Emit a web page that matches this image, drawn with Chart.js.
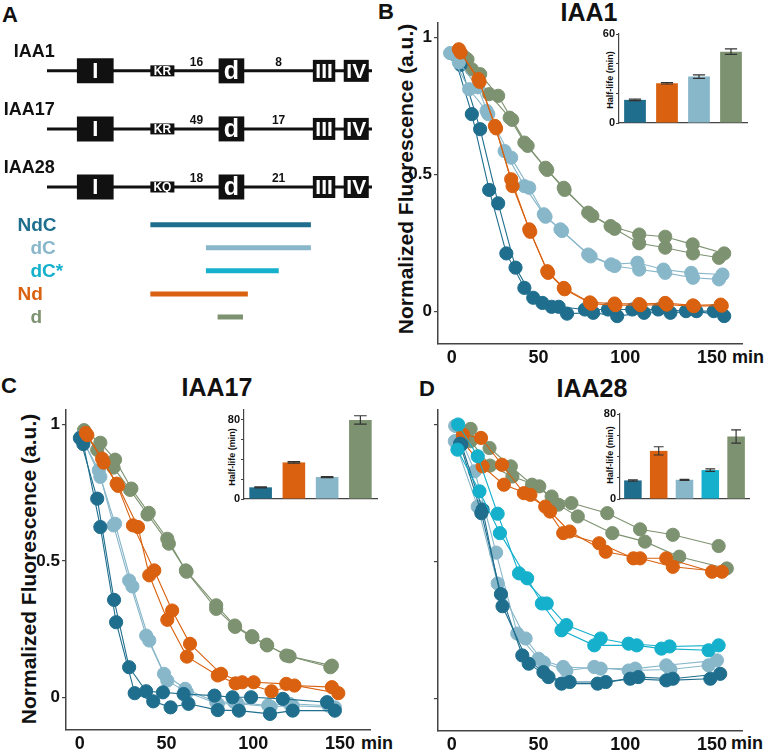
<!DOCTYPE html>
<html lang="en">
<head>
<meta charset="UTF-8" />
<title>Aux/IAA degron half-lives</title>
<script src="https://cdn.jsdelivr.net/npm/chart.js"></script>
<style>
  body { margin: 0; background: #fff; font-family: "Liberation Sans", Arial, sans-serif; }
  #fig { position: relative; width: 768px; height: 752px; overflow: hidden; background: #fff; }
  canvas { position: absolute; }
  .t { position: absolute; font-weight: bold; color: #111; white-space: nowrap; line-height: 1;
       transform: translate(-50%, -50%); }
  .rot { transform: translate(-50%, -50%) rotate(-90deg); }
</style>
</head>
<body>
<div id="fig">
  <div class="t" style="left:10px;top:15px;font-size:22px">A</div>
  <div class="t" style="left:386px;top:12px;font-size:22px">B</div>
  <div class="t" style="left:9px;top:386px;font-size:22px">C</div>
  <div class="t" style="left:427px;top:389px;font-size:22px">D</div>

  <div class="t" style="left:589px;top:12px;font-size:25px">IAA1</div>
  <div class="t" style="left:217px;top:387px;font-size:25px">IAA17</div>
  <div class="t" style="left:592px;top:388px;font-size:25px">IAA28</div>

  <div class="t rot" style="left:405px;top:179px;font-size:21px">Normalized Fluorescence (a.u.)</div>
  <div class="t rot" style="left:28px;top:569px;font-size:21px">Normalized Fluorescence (a.u.)</div>

  <div class="t" style="left:748px;top:357px;font-size:18px">min</div>
  <div class="t" style="left:377px;top:743px;font-size:18px">min</div>
  <div class="t" style="left:747px;top:743px;font-size:18px">min</div>

  <div class="t rot" style="left:610px;top:80px;font-size:9px">Half-life (min)</div>
  <div class="t rot" style="left:232px;top:457px;font-size:9px">Half-life (min)</div>
  <div class="t rot" style="left:610px;top:455px;font-size:9px">Half-life (min)</div>

  <canvas id="schemeA" width="384" height="302" style="left:0;top:36px"></canvas>
  <canvas id="curveB" width="370" height="355" style="left:380px;top:15px"></canvas>
  <canvas id="curveC" width="370" height="350" style="left:8px;top:402px"></canvas>
  <canvas id="curveD" width="370" height="350" style="left:380px;top:402px"></canvas>
  <canvas id="barB" width="165" height="100" style="left:585px;top:28px"></canvas>
  <canvas id="barC" width="170" height="100" style="left:210px;top:404px"></canvas>
  <canvas id="barD" width="166" height="96" style="left:586px;top:408px"></canvas>
</div>

<script>
// ---- panel A: domain map (positions in % of protein length) ----
const proteins = ["IAA1", "IAA17", "IAA28"];
const motifs = ["KR", "KR", "KQ"];
const spacerN = [16, 49, 18];
const spacerC = [8, 17, 21];
const domainStart = [9.2, 31.8, 52.8, 81.8, 91.3];
const domainEnd = [20.5, 39.2, 60.7, 88.7, 99.0];
const constructs = ["NdC", "dC", "dC*", "Nd", "d"];
const constructStart = [31.8, 48.9, 48.9, 31.8, 52.5];
const constructEnd = [81.2, 81.2, 71.3, 61.8, 60.3];

// ---- panels B-D: [time (min), normalized fluorescence], two replicates each ----
const B_NdC_1 = [[1,0.94],[11.5,0.72],[21.5,0.443],[31.4,0.211],[41.8,0.085],[52.2,0.03],[61.6,0.016],[76.7,0.006],[90,0.006],[104,0.006],[119,0.006],[135,0],[151,0]];
const B_NdC_2 = [[5,0.90],[16.3,0.665],[26.7,0.394],[36.7,0.159],[46.9,0.049],[57.5,0.016],[66.4,-0.009],[81.5,-0.006],[95.3,-0.018],[110.8,-0.006],[126,-0.006],[141,0],[157,-0.018]];
const B_Nd_1 = [[4,0.957],[15.3,0.848],[24.8,0.677],[34.2,0.482],[44.6,0.299],[55,0.146],[64.5,0.085],[79.6,0.032],[93.8,0.028],[108,0.026],[123,0.03],[139,0.021],[155,0.024]];
const B_Nd_2 = [[5,0.945],[16,0.838],[25.5,0.668],[35,0.457],[45.2,0.29],[55.5,0.14],[65,0.08],[80.3,0.027],[94.3,0.022],[108.7,0.022],[123.9,0.024],[139.5,0.018],[155.6,0.02]];
const B_dC_1 = [[-1,0.943],[10,0.811],[20,0.732],[30.4,0.585],[41.8,0.457],[53,0.354],[62.6,0.299],[78.6,0.207],[91.8,0.171],[107,0.177],[122,0.152],[138,0.14],[156,0.134]];
const B_dC_2 = [[4,0.909],[15,0.818],[21,0.72],[34.2,0.561],[44.6,0.451],[54,0.345],[63.5,0.293],[80,0.2],[93.8,0.165],[108,0.152],[123,0.14],[139,0.122],[154,0.116]];
const B_d_1 = [[7,0.93],[11.5,0.884],[21.5,0.793],[33.3,0.707],[41.8,0.616],[54,0.524],[64.5,0.451],[78.6,0.36],[91.5,0.311],[108,0.28],[123,0.272],[138.8,0.244],[157,0.211]];
const B_d_2 = [[9,0.92],[16.3,0.866],[26.7,0.787],[34.8,0.699],[43.7,0.604],[55,0.516],[65,0.443],[81,0.348],[93.8,0.301],[108,0.248],[123,0.232],[139,0.211],[154,0.195]];

const C_NdC_1 = [[0,0.95],[10,0.728],[19.7,0.357],[28.4,0.11],[38.2,0.022],[47.9,0.018],[59.8,0.012],[77.6,0.006],[88,0],[98.7,0],[117,-0.006],[142.5,-0.018]];
const C_NdC_2 = [[2,0.928],[11.8,0.624],[20.9,0.275],[31.6,0.015],[42.3,-0.015],[52.3,-0.037],[62.6,-0.024],[79.5,-0.047],[91.7,-0.049],[109.6,-0.061],[122.7,-0.049],[147,-0.049]];
const C_Nd_1 = [[3.4,0.969],[12.8,0.875],[21.2,0.783],[30.6,0.63],[42.9,0.465],[53.2,0.318],[63.5,0.196],[81.4,0.086],[93.6,0.055],[110.5,0.022],[123.7,0.043],[145.3,0.037]];
const C_Nd_2 = [[4.3,0.961],[13.7,0.86],[22,0.775],[33.5,0.624],[40,0.447],[50.4,0.284],[61.7,0.149],[79.5,0.08],[89.8,0.051],[100.2,0.055],[119,0.049],[149,0.015]];
const C_dC_1 = [[0.6,0.955],[10.9,0.832],[19.4,0.63],[28.4,0.428],[38.2,0.226],[48.5,0.086],[60.7,0.031],[78.6,-0.018],[89,-0.018],[108.6,-0.03],[120.9,-0.024],[143.4,-0.031]];
const C_dC_2 = [[2,0.94],[11.8,0.808],[20.3,0.636],[30.3,0.406],[40,0.208],[50.4,0.061],[61.7,0.018],[79.5,-0.024],[91,-0.024],[110,-0.035],[122.7,-0.031],[147,-0.037]];
const C_d_1 = [[2.4,0.979],[11.8,0.933],[20.3,0.871],[29.7,0.765],[39.7,0.676],[50.4,0.581],[61.1,0.465],[78.6,0.337],[89.3,0.263],[99.2,0.224],[107.7,0.193],[119,0.153],[145.3,0.116]];
const C_d_2 = [[3,0.96],[10,0.907],[19.4,0.842],[29,0.76],[39,0.67],[51.3,0.563],[61.5,0.46],[78.6,0.324],[89.5,0.258],[99.5,0.22],[108,0.19],[120.9,0.15],[144.4,0.11]];

const D_NdC_1 = [[4.7,0.93],[17,0.676],[28.3,0.38],[40.6,0.156],[52.8,0.095],[63.2,0.053],[84,0.053],[102.8,0.071],[123.6,0.065],[149,0.071]];
const D_NdC_2 = [[5.5,0.927],[17.7,0.689],[29.2,0.336],[44.3,0.126],[55.7,0.077],[67.9,0.059],[88.7,0.059],[107.5,0.077],[127.4,0.071],[154.7,0.089]];
const D_Nd_1 = [[6.4,0.963],[16.8,0.951],[28.9,0.853],[41.5,0.749],[53.8,0.7],[64.2,0.603],[84.9,0.566],[104.7,0.511],[123.6,0.511],[150,0.462]];
const D_Nd_2 = [[6,0.94],[17.7,0.847],[30,0.78],[45.3,0.743],[56.6,0.682],[67.9,0.609],[88.7,0.535],[108.5,0.511],[127.4,0.48],[155.7,0.462]];
const D_dC_1 = [[1.9,0.995],[13.2,0.829],[25.5,0.532],[37.7,0.236],[50,0.144],[64.2,0.114],[85.8,0.108],[105.7,0.108],[123.6,0.12],[152.8,0.138]];
const D_dC_2 = [[1.7,0.939],[14.9,0.7],[26.4,0.419],[42.5,0.218],[53,0.13],[66,0.1],[82.1,0.114],[101.9,0.101],[126,0.105],[148,0.12]];
const D_dCs_1 = [[3.6,1.0],[14.9,0.884],[26.4,0.674],[38.7,0.456],[54.7,0.346],[66,0.267],[85.8,0.218],[101.9,0.199],[125.5,0.189],[153.8,0.193]];
const D_dCs_2 = [[3.2,0.908],[15.9,0.756],[27.7,0.603],[43.4,0.438],[51.9,0.346],[63.2,0.248],[82.1,0.193],[106.6,0.193],[120.8,0.181],[148,0.175]];
const D_d_1 = [[10.8,0.984],[21.7,0.914],[34,0.847],[46.2,0.78],[57.5,0.737],[68.9,0.713],[89.6,0.676],[108.5,0.617],[127.4,0.597],[153.8,0.556]];
const D_d_2 = [[10.8,0.939],[22,0.85],[34.9,0.81],[50.4,0.774],[61.3,0.707],[72.6,0.664],[92.5,0.603],[111.3,0.572],[131.1,0.517],[158.5,0.474]];

const xTicks = [0, 50, 100, 150];
const yTicks = [0, 0.5, 1];

// ---- insets: half-life (min), mean and error ----
const B_labels = ["NdC", "Nd", "dC", "d"];
const B_halfLife = [15.6, 26.8, 31.3, 48.1];
const B_halfErr = [0.5, 0.5, 1.2, 1.9];
const C_labels = ["NdC", "Nd", "dC", "d"];
const C_halfLife = [11.8, 37.0, 22.2, 80.0];
const C_halfErr = [0.5, 0.8, 0.5, 4.2];
const D_labels = ["NdC", "Nd", "dC", "dC*", "d"];
const D_halfLife = [17.5, 45.3, 18.1, 27.2, 58.8];
const D_halfErr = [0.6, 3.9, 0.5, 1.2, 6.3];

const COLORS = { NdC: "#1f6e8e", dC: "#88b7ca", "dC*": "#14b0cc", Nd: "#d9610f", d: "#7d9270" };
const FAMILY = '"Liberation Sans", Arial, sans-serif';
const font = (size) => "bold " + size + "px " + FAMILY;

// ---------- panel A ----------
const constructRow = (k) => 2.65 + k * 0.397;
const domainHeight = [25, 11, 25, 22, 22];
const domainFont = [22, 12, 25, 21, 21];

function seg(x0, x1, row, width, color) {
  return {
    data: [{ x: x0, y: row }, { x: x1, y: row }],
    showLine: true, borderColor: color, borderWidth: width, borderCapStyle: "butt",
    pointRadius: 0, pointHoverRadius: 0, clip: false,
  };
}

const schemeSets = [];
proteins.forEach((p, r) => {
  schemeSets.push(seg(0, 100, r, 3, "#111"));
  domainStart.forEach((s, k) => schemeSets.push(seg(s, domainEnd[k], r, domainHeight[k], "#111")));
});
constructs.forEach((c, k) => schemeSets.push(seg(constructStart[k], constructEnd[k], constructRow(k), 5, COLORS[c])));

const schemeText = {
  id: "schemeText",
  afterDatasetsDraw(chart) {
    const { ctx, scales: { x, y } } = chart;
    ctx.save();
    ctx.textBaseline = "middle";
    proteins.forEach((name, r) => {
      ctx.fillStyle = "#111";
      ctx.textAlign = "right";
      ctx.font = font(18);
      ctx.fillText(name, x.getPixelForValue(2.4), y.getPixelForValue(r - 0.33));
      ctx.textAlign = "center";
      ctx.font = font(12);
      ctx.fillText(String(spacerN[r]), x.getPixelForValue((domainEnd[1] + domainStart[2]) / 2), y.getPixelForValue(r - 0.14));
      ctx.fillText(String(spacerC[r]), x.getPixelForValue((domainEnd[2] + domainStart[3]) / 2), y.getPixelForValue(r - 0.14));
      ctx.fillStyle = "#fff";
      ["I", motifs[r], "d", "III", "IV"].forEach((t, k) => {
        ctx.font = font(domainFont[k]);
        ctx.fillText(t, x.getPixelForValue((domainStart[k] + domainEnd[k]) / 2), y.getPixelForValue(r) + 1);
      });
    });
    ctx.textAlign = "left";
    ctx.font = font(19);
    constructs.forEach((name, k) => {
      ctx.fillStyle = COLORS[name];
      const indent = name.startsWith("N") ? -9.1 : -5.1;
      ctx.fillText(name, x.getPixelForValue(indent), y.getPixelForValue(constructRow(k)) + 1);
    });
    ctx.restore();
  },
};

new Chart(document.getElementById("schemeA"), {
  type: "scatter",
  data: { datasets: schemeSets },
  options: {
    responsive: false, animation: false,
    layout: { padding: { left: 47, right: 12, top: 0, bottom: 0 } },
    plugins: { legend: { display: false }, tooltip: { enabled: false } },
    scales: {
      x: { type: "linear", min: 0, max: 100, display: false },
      y: { type: "linear", min: -0.6, max: 4.6, reverse: true, display: false },
    },
  },
  plugins: [schemeText],
});

// ---------- time courses ----------
function curve(pts, color) {
  return {
    data: pts.map((p) => ({ x: p[0], y: p[1] })),
    showLine: true, borderColor: color, backgroundColor: color, borderWidth: 1.1,
    pointRadius: 6.6, pointHoverRadius: 6.6, pointBorderWidth: 1, pointBorderColor: color, clip: false,
  };
}

function timeCourse(id, sets, yLabels, axisHeight) {
  new Chart(document.getElementById(id), {
    type: "scatter",
    data: { datasets: sets },
    options: {
      responsive: false, animation: false,
      layout: { padding: { top: 8, right: 3, left: 0, bottom: 0 } },
      plugins: { legend: { display: false }, tooltip: { enabled: false } },
      scales: {
        x: {
          type: "linear", min: -8, max: 167.5,
          afterBuildTicks: (s) => { s.ticks = xTicks.map((v) => ({ value: v })); },
          ticks: { font: { family: FAMILY, size: 18, weight: "bold" }, color: "#111", padding: 3, maxRotation: 0, autoSkip: false },
          grid: { display: false, drawTicks: false, tickLength: 0 },
          border: { color: "#444", width: 1.5 },
          afterFit: (s) => { s.height = axisHeight; s.paddingLeft = 0; s.paddingRight = 0; },
        },
        y: {
          type: "linear", min: -0.12, max: 1.053,
          afterBuildTicks: (s) => { s.ticks = yTicks.map((v) => ({ value: v })); },
          ticks: {
            font: { family: FAMILY, size: 17, weight: "bold" }, color: "#111", padding: 2,
            callback: (v) => (yLabels ? String(v) : ""),
          },
          grid: { drawOnChartArea: false, drawTicks: true, tickLength: 4, color: "#444", lineWidth: 1.2 },
          border: { color: "#444", width: 1.5 },
          afterFit: (s) => { s.width = 58; s.paddingTop = 0; s.paddingBottom = 0; },
        },
      },
    },
  });
}

// first dataset is drawn on top
timeCourse("curveB", [
  curve(B_Nd_1, COLORS.Nd), curve(B_Nd_2, COLORS.Nd),
  curve(B_dC_1, COLORS.dC), curve(B_dC_2, COLORS.dC),
  curve(B_NdC_1, COLORS.NdC), curve(B_NdC_2, COLORS.NdC),
  curve(B_d_1, COLORS.d), curve(B_d_2, COLORS.d),
], true, 26);

timeCourse("curveC", [
  curve(C_Nd_1, COLORS.Nd), curve(C_Nd_2, COLORS.Nd),
  curve(C_NdC_1, COLORS.NdC), curve(C_NdC_2, COLORS.NdC),
  curve(C_dC_1, COLORS.dC), curve(C_dC_2, COLORS.dC),
  curve(C_d_1, COLORS.d), curve(C_d_2, COLORS.d),
], true, 22);

timeCourse("curveD", [
  curve(D_dCs_1, COLORS["dC*"]), curve(D_dCs_2, COLORS["dC*"]),
  curve(D_NdC_1, COLORS.NdC), curve(D_NdC_2, COLORS.NdC),
  curve(D_Nd_1, COLORS.Nd), curve(D_Nd_2, COLORS.Nd),
  curve(D_dC_1, COLORS.dC), curve(D_dC_2, COLORS.dC),
  curve(D_d_1, COLORS.d), curve(D_d_2, COLORS.d),
], false, 21);

// ---------- half-life insets ----------
const errorBars = {
  id: "errorBars",
  afterDatasetsDraw(chart) {
    const ds = chart.data.datasets[0];
    const y = chart.scales.y;
    const ctx = chart.ctx;
    ctx.save();
    ctx.strokeStyle = "#333";
    ctx.lineWidth = 1.2;
    chart.getDatasetMeta(0).data.forEach((bar, i) => {
      const top = y.getPixelForValue(ds.data[i] + ds.errors[i]);
      const bot = y.getPixelForValue(ds.data[i] - ds.errors[i]);
      const w = bar.width * 0.28;
      ctx.beginPath();
      ctx.moveTo(bar.x, top); ctx.lineTo(bar.x, bot);
      ctx.moveTo(bar.x - w, top); ctx.lineTo(bar.x + w, top);
      ctx.moveTo(bar.x - w, bot); ctx.lineTo(bar.x + w, bot);
      ctx.stroke();
    });
    ctx.restore();
  },
};

function halfLife(id, labels, values, errs, yMax, yTop) {
  new Chart(document.getElementById(id), {
    type: "bar",
    data: {
      labels: labels,
      datasets: [{
        data: values, errors: errs, backgroundColor: labels.map((l) => COLORS[l]),
        barPercentage: 0.68, categoryPercentage: 1, borderWidth: 0,
      }],
    },
    options: {
      responsive: false, animation: false,
      layout: { padding: { top: 6, right: 3, left: 0, bottom: 0 } },
      plugins: { legend: { display: false }, tooltip: { enabled: false } },
      scales: {
        x: {
          ticks: { display: false }, grid: { display: false, drawTicks: false },
          border: { color: "#444", width: 1.2 },
          afterFit: (s) => { s.height = 5; s.paddingLeft = 0; s.paddingRight = 0; },
        },
        y: {
          min: 0, max: yMax,
          ticks: {
            stepSize: 20, includeBounds: false, padding: 1, color: "#111",
            font: { family: FAMILY, size: 11, weight: "bold" },
            callback: (v) => (v === 0 || v === yTop ? String(v) : ""),
          },
          grid: { drawOnChartArea: false, tickLength: 3, color: "#444", lineWidth: 1 },
          border: { color: "#444", width: 1.2 },
          afterFit: (s) => { s.width = 34; s.paddingTop = 0; s.paddingBottom = 0; },
        },
      },
    },
    plugins: [errorBars],
  });
}

halfLife("barB", B_labels, B_halfLife, B_halfErr, 60, 60);
halfLife("barC", C_labels, C_halfLife, C_halfErr, 90, 80);
halfLife("barD", D_labels, D_halfLife, D_halfErr, 80, 80);
</script>
</body>
</html>
